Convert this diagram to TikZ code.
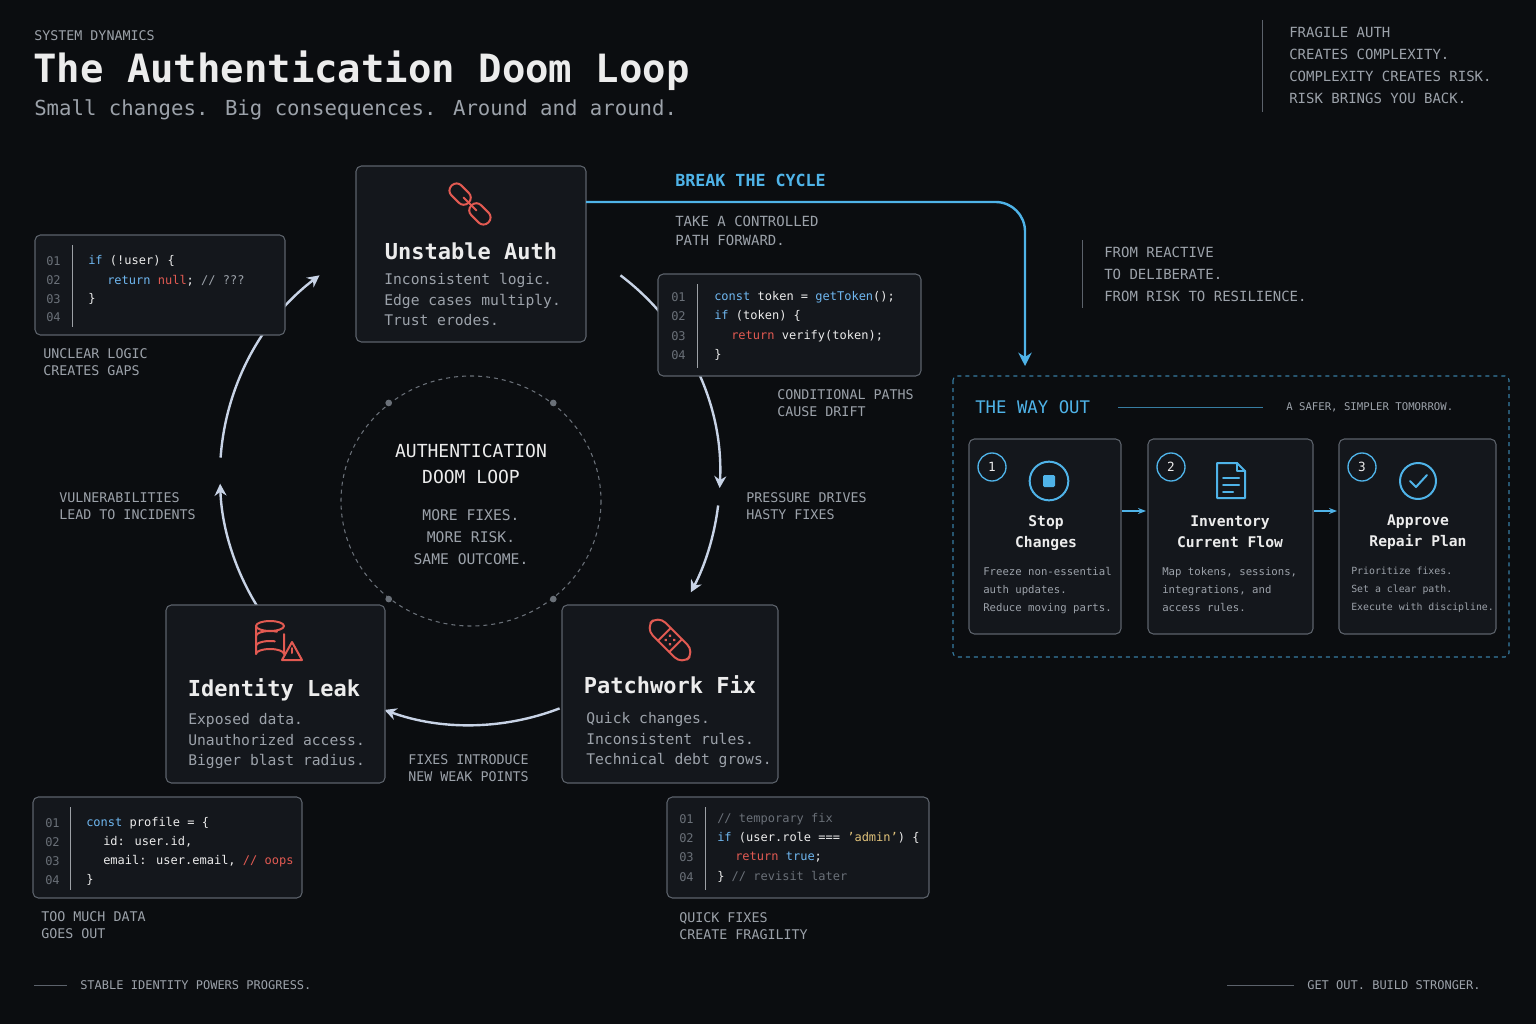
\documentclass[tikz,border=0pt]{standalone}
\usepackage{fontspec}
\setmainfont{DejaVu Sans Mono}
\usetikzlibrary{arrows.meta,calc}
\definecolor{bg}{HTML}{0B0D10}
\definecolor{card}{HTML}{14171C}
\definecolor{bord}{HTML}{5C626B}
\definecolor{blu}{HTML}{4FB3E8}
\definecolor{rd}{HTML}{E25A52}
\definecolor{tx}{HTML}{ECECEC}
\definecolor{gr}{HTML}{9CA2AA}
\definecolor{dg}{HTML}{6A7078}
\definecolor{kw}{HTML}{6FB7F0}
\definecolor{str}{HTML}{E0C27A}
\definecolor{loopc}{HTML}{C8D3E6}
\tikzset{
 x=0.75pt,y=-0.75pt,
 box/.style={draw=bord,fill=card,rounded corners=4pt,line width=0.8pt},
 lab/.style={anchor=west,text=gr,font=\fontsize{10}{13}\selectfont,align=left,inner sep=0},
 ttl/.style={text=tx,font=\fontsize{16.5}{18}\selectfont\bfseries},
 body/.style={text=gr,font=\fontsize{11}{15.5}\selectfont,align=left,anchor=north west,inner sep=0},
 cd/.style={anchor=west,inner sep=0,font=\fontsize{9}{11}\selectfont,text=tx},
 ln/.style={anchor=west,inner sep=0,font=\fontsize{9}{11}\selectfont,text=dg},
 la/.style={draw=loopc,line width=1.8pt,-{Stealth[length=9pt,width=9pt]}},
 ba/.style={draw=blu,line width=1.8pt,-{Stealth[length=10pt,width=10pt]}},
 icon/.style={line width=1.5pt,line cap=round,line join=round},
}
\begin{document}
\begin{tikzpicture}
\fill[bg] (0,0) rectangle (1536,1024);
\useasboundingbox (0,0) rectangle (1536,1024);
% header
\node[lab,text=gr] (sd) at (34,36) {SYSTEM DYNAMICS};
\node[anchor=west,inner sep=0,text=tx,font=\fontsize{29.2}{32}\selectfont\bfseries] (title) at (33,71) {The Authentication Doom Loop};
\node[anchor=west,inner sep=0,text=gr,font=\fontsize{15.5}{18}\selectfont] (sub) at (34,110) {Small changes. Big consequences. Around and around.};
\draw[bord] (1262,20) -- (1262,112);
\node[lab,font=\fontsize{10.5}{16.5}\selectfont] (fr) at (1289,65) {FRAGILE AUTH\\CREATES COMPLEXITY.\\COMPLEXITY CREATES RISK.\\RISK BRINGS YOU BACK.};
% big loop
\coordinate (c) at (470,475);
\draw[la] ($(c)+(-53:250)$) arc[start angle=-53,end angle=3,radius=250];
\draw[la] ($(c)+(7:250)$) arc[start angle=7,end angle=28,radius=250];
\draw[la] ($(c)+(69:250)$) arc[start angle=69,end angle=110,radius=250];
\draw[la] ($(c)+(148:250)$) arc[start angle=148,end angle=178,radius=250];
\draw[la] ($(c)+(184:250)$) arc[start angle=184,end angle=233,radius=250];
% center dashed circle
\draw[dg,dashed,line width=0.8pt] (471,501) ellipse[x radius=130,y radius=125];
\foreach \a in {-130,-50,50,130}{\fill[dg] ($(471,501)+(\a:128)$) circle (2.5pt);}
\node[text=tx,font=\fontsize{13.5}{19}\selectfont,align=center] (ctr) at (471,464) {AUTHENTICATION\\DOOM LOOP};
\node[text=gr,font=\fontsize{11}{16.5}\selectfont,align=center] (ctr2) at (471,537) {MORE FIXES.\\MORE RISK.\\SAME OUTCOME.};
% cards
\draw[box] (356,166) rectangle (586,342);
\node[ttl] (ua) at (471,251) {Unstable Auth};
\node[body] (uab) at (384,273) {Inconsistent logic.\\Edge cases multiply.\\Trust erodes.};
\begin{scope}[shift={(470,204)},rotate=-45,rd,icon]
\draw[rounded corners=5pt] (-26,-7) rectangle (-2,7);
\draw[rounded corners=5pt] (2,-7) rectangle (26,7);
\draw (-9,0) -- (9,0);
\end{scope}
\draw[box] (166,605) rectangle (385,783);
\node[ttl] (il) at (274,690) {Identity Leak};
\node[body] (ilb) at (188,713) {Exposed data.\\Unauthorized access.\\Bigger blast radius.};
\begin{scope}[shift={(270,640)},rd,icon]
\draw (0,-14) ellipse[x radius=14,y radius=5];
\draw (-14,-14) -- (-14,14) arc[start angle=180,end angle=360,x radius=14,y radius=5] -- (14,-6);
\draw (-14,-4) arc[start angle=180,end angle=300,x radius=14,y radius=5];
\draw (-14,6) arc[start angle=180,end angle=290,x radius=14,y radius=5];
\draw (22,2) -- (12,20) -- (32,20) -- cycle;
\draw (22,8) -- (22,13);
\end{scope}
\draw[box] (562,605) rectangle (778,783);
\node[ttl] (pf) at (670,685) {Patchwork Fix};
\node[body] (pfb) at (586,712) {Quick changes.\\Inconsistent rules.\\Technical debt grows.};
\begin{scope}[shift={(670,640)},rotate=-45,rd,icon]
\draw[rounded corners=8pt] (-26,-9) rectangle (26,9);
\draw (-8,-9) -- (-8,9) (8,-9) -- (8,9);
\foreach \p in {(-3,-3),(3,-3),(-3,3),(3,3)} \fill \p circle (1.3pt);
\end{scope}
% loop labels
\node[lab] (l1) at (43,362) {UNCLEAR LOGIC\\CREATES GAPS};
\node[lab] (l2) at (59,506) {VULNERABILITIES\\LEAD TO INCIDENTS};
\node[lab] (l3) at (777,403) {CONDITIONAL PATHS\\CAUSE DRIFT};
\node[lab] (l4) at (746,506) {PRESSURE DRIVES\\HASTY FIXES};
\node[lab] (l5) at (408,768) {FIXES INTRODUCE\\NEW WEAK POINTS};
\node[lab] (l6) at (41,925) {TOO MUCH DATA\\GOES OUT};
\node[lab] (l7) at (679,926) {QUICK FIXES\\CREATE FRAGILITY};
% code box TL
\draw[box] (35,235) rectangle (285,335);
\draw[bord!60] (72,245) -- (72,327);
\foreach \n/\y in {01/261,02/280,03/299,04/317}{\node[ln] at (46,\y) {\n};}
\node[cd] (c1) at (88,261) {\textcolor{kw}{if} (!user) \{};
\node[cd] (c2) at (107,281) {\textcolor{kw}{return} \textcolor{rd}{null}; \textcolor{gr}{// ???}};
\node[cd] (c3) at (88,299) {\}};
% code box TR
\draw[box] (658,274) rectangle (921,376);
\draw[bord!60] (697,284) -- (697,368);
\foreach \n/\y in {01/297,02/316,03/336,04/355}{\node[ln] at (671,\y) {\n};}
\node[cd] (c4) at (714,297) {\textcolor{kw}{const} token = \textcolor{kw}{getToken}();};
\node[cd] (c5) at (714,316) {\textcolor{kw}{if} (token) \{};
\node[cd] (c6) at (731,336) {\textcolor{rd}{return} verify(token);};
\node[cd] (c7) at (714,355) {\}};
% code box BL
\draw[box] (33,797) rectangle (302,898);
\draw[bord!60] (70,807) -- (70,890);
\foreach \n/\y in {01/823,02/842,03/861,04/880}{\node[ln] at (45,\y) {\n};}
\node[cd] (c8) at (86,823) {\textcolor{kw}{const} profile = \{};
\node[cd] (c9) at (103,842) {id: user.id,};
\node[cd] (c10) at (103,861) {email: user.email, \textcolor{rd}{// oops}};
\node[cd] (c11) at (86,880) {\}};
% code box BR
\draw[box] (667,797) rectangle (929,898);
\draw[bord!60] (705,807) -- (705,890);
\foreach \n/\y in {01/819,02/838,03/857,04/877}{\node[ln] at (679,\y) {\n};}
\node[cd,text=dg] (c12) at (717,819) {// temporary fix};
\node[cd] (c13) at (717,838) {\textcolor{kw}{if} (user.role === \textcolor{str}{'admin'}) \{};
\node[cd] (c14) at (735,857) {\textcolor{rd}{return} \textcolor{kw}{true};};
\node[cd] (c15) at (717,877) {\} \textcolor{dg}{// revisit later}};
% break the cycle
\node[lab,text=blu,font=\fontsize{12.5}{14}\selectfont\bfseries] (brk) at (675,180) {BREAK THE CYCLE};
\node[lab,font=\fontsize{10.5}{14.5}\selectfont] (tk) at (675,231) {TAKE A CONTROLLED\\PATH FORWARD.};
\draw[bord] (1082,240) -- (1082,308);
\node[lab,font=\fontsize{10.5}{16.5}\selectfont] (fr2) at (1104,274) {FROM REACTIVE\\TO DELIBERATE.\\FROM RISK TO RESILIENCE.};
% way out
\draw[blu!70!black,dashed,line width=0.8pt,rounded corners=3pt] (953,376) rectangle (1509,657);
\node[lab,text=blu,font=\fontsize{13}{14}\selectfont] (wo) at (975,407) {THE WAY OUT};
\draw[blu!70!black] (1118,407) -- (1263,407);
\node[lab,font=\fontsize{8}{9}\selectfont] (saf) at (1286,407) {A SAFER, SIMPLER TOMORROW.};
\draw[ba,rounded corners=22pt] (586,202) -- (1025,202) -- (1025,366);
\foreach \x/\w/\n/\nm in {969/1121/1/s1,1148/1313/2/s2,1339/1496/3/s3}{
 \draw[box] (\x,439) rectangle (\w,634);
 \draw[blu,line width=1pt] (\x+23,467) circle (10.5pt);
 \node[text=tx,font=\fontsize{9.5}{11}\selectfont] (\nm) at (\x+23,467) {\n};
}
\draw[blu,icon] (1049,481) circle (14.5pt);
\fill[blu,rounded corners=1pt] (1043,475) rectangle (1055,487);
\draw[blu,icon] (1217,463) -- (1237,463) -- (1245,471) -- (1245,498) -- (1217,498) -- cycle;
\draw[blu,icon] (1237,463) -- (1237,471) -- (1245,471);
\draw[blu,icon] (1223,478)--(1239,478) (1223,485)--(1239,485) (1223,492)--(1233,492);
\draw[blu,icon] (1418,481) circle (13.5pt);
\draw[blu,icon] (1410,481) -- (1416,487) -- (1427,475);
\node[text=tx,font=\fontsize{11}{15.5}\selectfont\bfseries,align=center] (t1) at (1046,533) {Stop\\Changes};
\node[text=tx,font=\fontsize{11}{15.5}\selectfont\bfseries,align=center] (t2) at (1230,532) {Inventory\\Current Flow};
\node[text=tx,font=\fontsize{11}{15.5}\selectfont\bfseries,align=center] (t3) at (1418,532) {Approve\\Repair Plan};
\node[body,font=\fontsize{8}{13.5}\selectfont] (b1) at (983,567) {Freeze non-essential\\auth updates.\\Reduce moving parts.};
\node[body,font=\fontsize{8}{13.5}\selectfont] (b2) at (1162,567) {Map tokens, sessions,\\integrations, and\\access rules.};
\node[body,font=\fontsize{7.4}{13.5}\selectfont] (b3) at (1351,567) {Prioritize fixes.\\Set a clear path.\\Execute with discipline.};
\draw[blu,line width=1.4pt,-{Stealth[length=6pt]}] (1122,511) -- (1146,511);
\draw[blu,line width=1.4pt,-{Stealth[length=6pt]}] (1314,511) -- (1337,511);
% footer
\draw[bord] (34,985) -- (67,985);
\node[lab,font=\fontsize{9}{10}\selectfont] (f1) at (80,985) {STABLE IDENTITY POWERS PROGRESS.};
\draw[bord] (1227,985) -- (1294,985);
\node[lab,font=\fontsize{9}{10}\selectfont] (f2) at (1307,985) {GET OUT. BUILD STRONGER.};
\end{tikzpicture}
\end{document}
